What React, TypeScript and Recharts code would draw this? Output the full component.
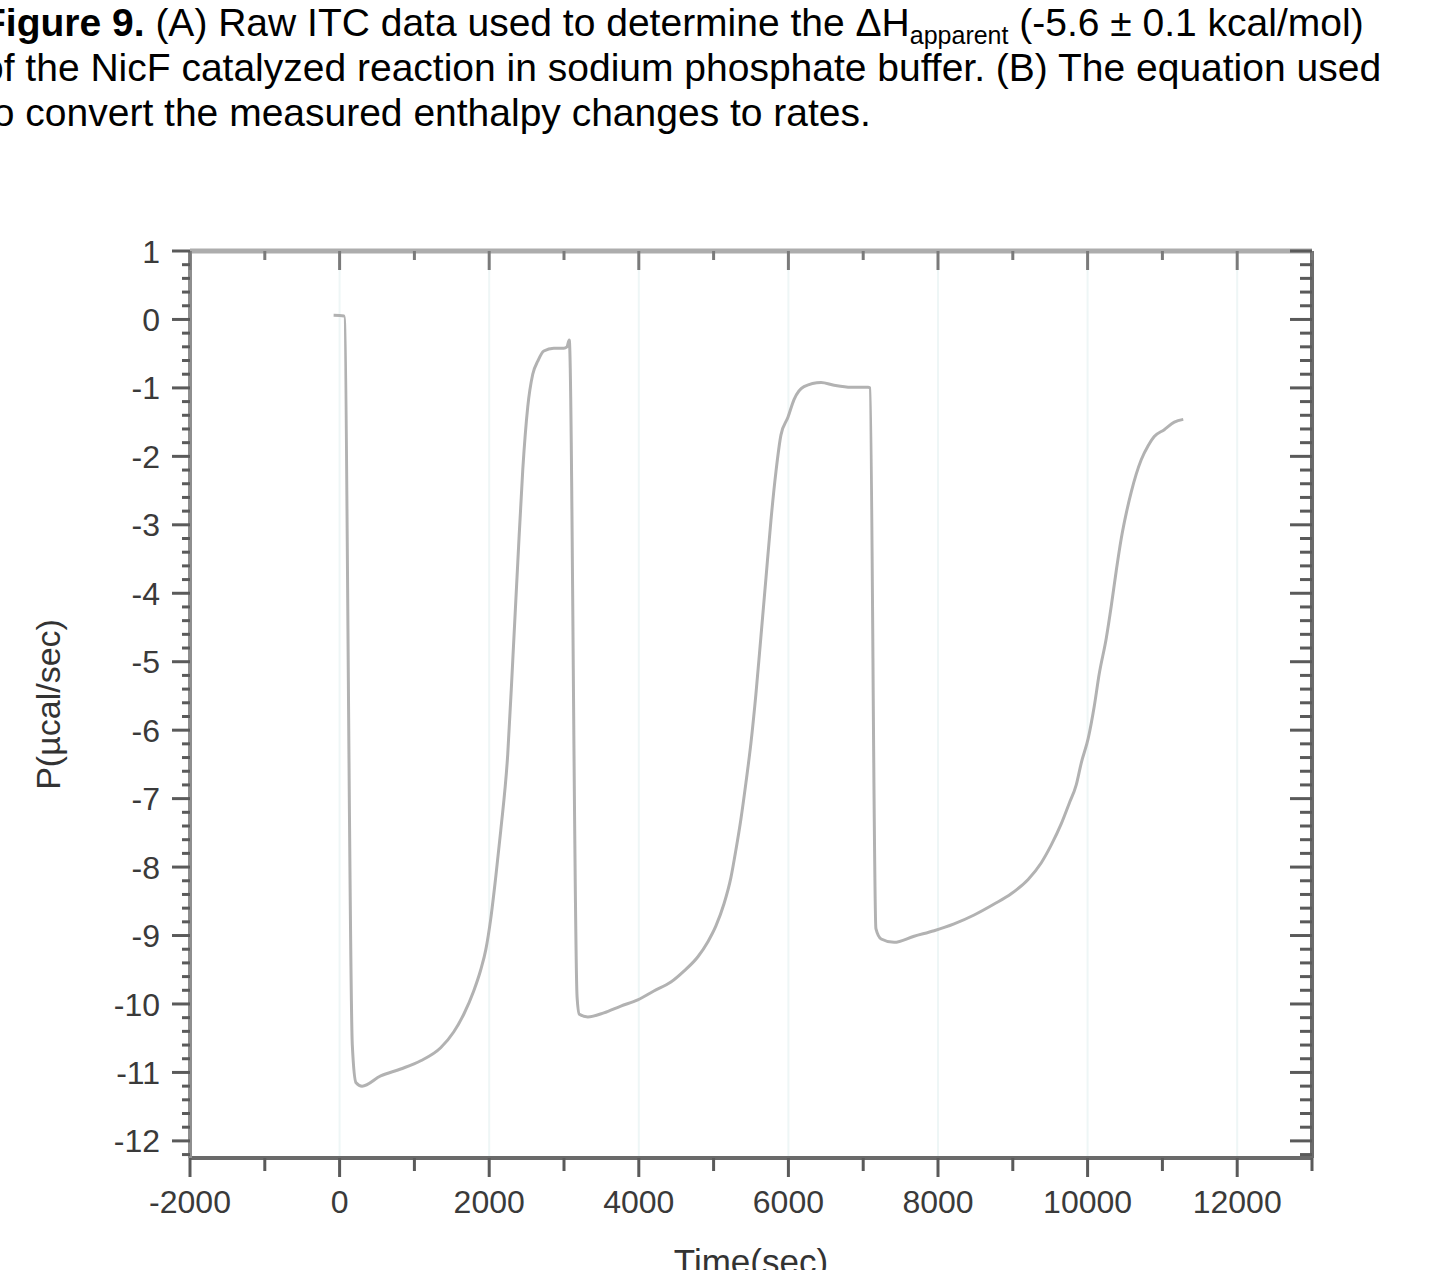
import React from 'react';
import { LineChart, Line, XAxis, YAxis, ReferenceLine } from 'recharts';

// ---- data (time in s, power in µcal/sec) ----
const baselineTime = [-80, 60];
const baselinePower = [0.06, 0.05];

const drop1Time = [170, 220];
const drop1Power = [-10.6, -11.15];

const rise1Time = [300, 549, 816, 1084, 1351, 1525, 1660, 1793, 1887, 1954, 2020, 2087, 2154, 2248, 2315, 2382, 2449, 2515, 2582, 2649, 2730, 2863, 2997, 3040, 3070];
const rise1Power = [-11.2, -11.05, -10.95, -10.83, -10.64, -10.41, -10.15, -9.81, -9.5, -9.21, -8.76, -8.15, -7.47, -6.35, -4.98, -3.55, -2.19, -1.28, -0.8, -0.61, -0.46, -0.42, -0.42, -0.4, -0.3];

const drop2Time = [3175, 3205];
const drop2Power = [-9.9, -10.15];

const rise2Time = [3318, 3532, 3760, 3987, 4201, 4429, 4603, 4790, 4924, 5031, 5138, 5232, 5298, 5365, 5432, 5499, 5566, 5633, 5700, 5767, 5834, 5900, 5994, 6075, 6208, 6436, 6610, 6837, 7065];
const rise2Power = [-10.19, -10.13, -10.03, -9.94, -9.81, -9.68, -9.52, -9.31, -9.09, -8.86, -8.54, -8.15, -7.75, -7.3, -6.77, -6.19, -5.47, -4.63, -3.78, -2.93, -2.22, -1.69, -1.43, -1.17, -0.98, -0.92, -0.96, -0.99, -0.99];

const drop3Time = [7090, 7170, 7240];
const drop3Power = [-1.0, -8.9, -9.05];

const rise3Time = [7413, 7680, 7948, 8215, 8483, 8751, 8978, 9205, 9379, 9513, 9647, 9754, 9848, 9915, 10008, 10089, 10155, 10249, 10316, 10383, 10450, 10517, 10584, 10650, 10717, 10811, 10891, 11025, 11159, 11279];
const rise3Power = [-9.1, -9.01, -8.93, -8.83, -8.7, -8.54, -8.39, -8.18, -7.94, -7.68, -7.37, -7.07, -6.8, -6.48, -6.12, -5.65, -5.18, -4.66, -4.19, -3.67, -3.2, -2.83, -2.52, -2.26, -2.05, -1.84, -1.71, -1.61, -1.5, -1.46];

// ---- axes ----
const xDomain = [-2000, 13000];
const yDomain = [-12.25, 1];
const xMajorTicks = [-2000, 0, 2000, 4000, 6000, 8000, 10000, 12000];
const xMinorTicks = [-1000, 1000, 3000, 5000, 7000, 9000, 11000, 13000];
const yMajorTicks = [1, 0, -1, -2, -3, -4, -5, -6, -7, -8, -9, -10, -11, -12];
const yMinorStep = 0.2;

const xLabel = 'Time(sec)';
const yLabel = 'P(µcal/sec)';

const segments = [
  [baselineTime, baselinePower],
  [drop1Time, drop1Power],
  [rise1Time, rise1Power],
  [drop2Time, drop2Power],
  [rise2Time, rise2Power],
  [drop3Time, drop3Power],
  [rise3Time, rise3Power],
];
const data: { t: number; p: number }[] = [];
segments.forEach(([ts, ps]) => ts.forEach((t, i) => data.push({ t, p: ps[i] })));

const yMinorTicks: number[] = [];
for (let k = Math.ceil(yDomain[0] / yMinorStep); k * yMinorStep <= yDomain[1] + 1e-9; k++) {
  const v = Math.round(k * yMinorStep * 10) / 10;
  if (!yMajorTicks.includes(v)) yMinorTicks.push(v);
}
const xAllTicks = [...xMajorTicks, ...xMinorTicks].sort((a, b) => a - b);
const yAllTicks = [...yMajorTicks, ...yMinorTicks].sort((a, b) => a - b);

const FONT = '"Liberation Sans", Arial, Helvetica, sans-serif';
const TICK_COLOR = '#5a5a5a';
const LABEL_COLOR = '#3a3a3a';

const BottomTick = (props: any) => {
  const { x, y, payload } = props;
  const major = xMajorTicks.includes(payload.value);
  return (
    <g>
      <line x1={x} y1={y} x2={x} y2={y + (major ? 19 : 13)} stroke={TICK_COLOR} strokeWidth={3} />
      {major && (
        <text x={x} y={y + 55} textAnchor="middle" fontFamily={FONT} fontSize={32} fill={LABEL_COLOR}>
          {payload.value}
        </text>
      )}
    </g>
  );
};

const TopTick = (props: any) => {
  const { x, y, payload } = props;
  const major = xMajorTicks.includes(payload.value);
  return <line x1={x} y1={y} x2={x} y2={y + (major ? 19 : 9)} stroke="#7a7a7a" strokeWidth={3} />;
};

const LeftTick = (props: any) => {
  const { x, y, payload } = props;
  const major = yMajorTicks.includes(payload.value);
  return (
    <g>
      <line x1={x} y1={y} x2={x - (major ? 18 : 8)} y2={y} stroke={TICK_COLOR} strokeWidth={3} />
      {major && (
        <text x={x - 30} y={y} dy="0.36em" textAnchor="end" fontFamily={FONT} fontSize={32} fill={LABEL_COLOR}>
          {payload.value}
        </text>
      )}
    </g>
  );
};

const RightTick = (props: any) => {
  const { x, y, payload } = props;
  const major = yMajorTicks.includes(payload.value);
  return <line x1={x} y1={y} x2={x - (major ? 22 : 12)} y2={y} stroke={TICK_COLOR} strokeWidth={3} />;
};

const XTitle = (props: any) => {
  const vb = props.viewBox;
  return (
    <text x={vb.x + vb.width / 2} y={vb.y + 116} textAnchor="middle" fontFamily={FONT} fontSize={35} fill="#333">
      {xLabel}
    </text>
  );
};

const YTitle = (props: any) => {
  const vb = props.viewBox;
  const cx = vb.x - 141;
  const cy = vb.y + vb.height / 2;
  return (
    <text
      x={cx}
      y={cy}
      transform={`rotate(-90 ${cx} ${cy})`}
      textAnchor="middle"
      dominantBaseline="central"
      fontFamily={FONT}
      fontSize={34}
      fill="#333"
    >
      {yLabel}
    </text>
  );
};

export default function App() {
  return (
    <div style={{ position: 'absolute', left: 0, top: 0, width: 1436, height: 1270, background: '#fff', overflow: 'hidden' }}>
      <LineChart width={1436} height={1270} data={data} margin={{ top: 250, right: 123, bottom: 111, left: 189 }}>
        <XAxis
          xAxisId="bottom"
          orientation="bottom"
          type="number"
          dataKey="t"
          domain={xDomain}
          allowDataOverflow
          ticks={xAllTicks}
          interval={0}
          height={1}
          tickSize={0}
          tickMargin={0}
          tickLine={false}
          tick={BottomTick}
          axisLine={{ stroke: '#6a6a6a', strokeWidth: 4 }}
          label={XTitle}
        />
        <XAxis
          xAxisId="top"
          orientation="top"
          type="number"
          dataKey="t"
          domain={xDomain}
          allowDataOverflow
          ticks={xAllTicks}
          interval={0}
          height={1}
          tickSize={0}
          tickMargin={0}
          tickLine={false}
          tick={TopTick}
          axisLine={{ stroke: '#adadad', strokeWidth: 5 }}
        />
        <YAxis
          yAxisId="left"
          orientation="left"
          type="number"
          domain={yDomain}
          allowDataOverflow
          ticks={yAllTicks}
          interval={0}
          width={1}
          tickSize={0}
          tickMargin={0}
          tickLine={false}
          tick={LeftTick}
          axisLine={{ stroke: '#8e8e8e', strokeWidth: 4 }}
          label={YTitle}
        />
        <YAxis
          yAxisId="right"
          orientation="right"
          type="number"
          domain={yDomain}
          allowDataOverflow
          ticks={yAllTicks}
          interval={0}
          width={1}
          tickSize={0}
          tickMargin={0}
          tickLine={false}
          tick={RightTick}
          axisLine={{ stroke: '#6a6a6a', strokeWidth: 4 }}
        />
        {xMajorTicks.slice(1).map((v) => (
          <ReferenceLine key={v} x={v} xAxisId="bottom" yAxisId="left" stroke="#eef6f6" strokeWidth={2} />
        ))}
        <Line
          xAxisId="bottom"
          yAxisId="left"
          type="monotoneX"
          dataKey="p"
          stroke="#b2b2b2"
          strokeWidth={3}
          dot={false}
          isAnimationActive={false}
        />
      </LineChart>
      <div
        style={{
          position: 'absolute',
          left: -18,
          top: 0,
          fontFamily: FONT,
          fontSize: 39,
          lineHeight: '45px',
          color: '#000',
          whiteSpace: 'nowrap',
        }}
      >
        <b>Figure 9.</b> (A) Raw ITC data used to determine the ΔH
        <span style={{ fontSize: 25, verticalAlign: -8, lineHeight: 0 }}>apparent</span> (-5.6 ± 0.1 kcal/mol)
        <br />
        of the NicF catalyzed reaction in sodium phosphate buffer. (B) The equation used
        <br />
        to convert the measured enthalpy changes to rates.
      </div>
    </div>
  );
}
